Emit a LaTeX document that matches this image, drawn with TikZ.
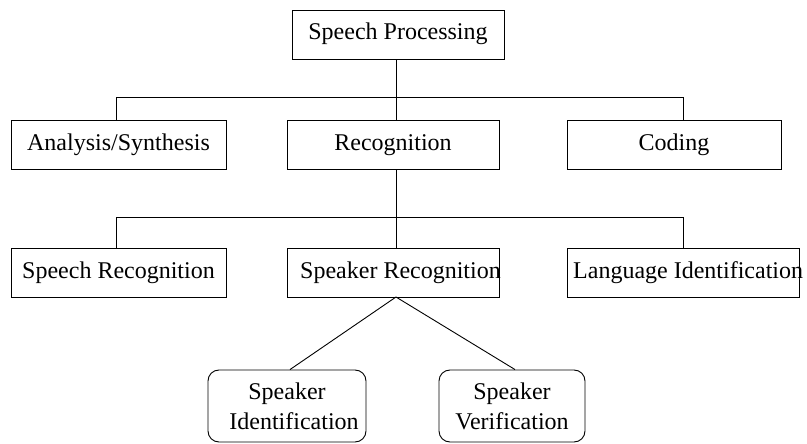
\documentclass[tikz,border=0pt]{standalone}
\usepackage{fontspec}
\setmainfont{Liberation Serif}
\begin{document}
\begin{tikzpicture}[x=1pt,y=-1pt,
  txt/.style={font=\fontsize{24}{30}\selectfont},
  box/.style={draw, line width=0.9pt, inner sep=0pt, minimum height=49pt,
    text height=16pt, text depth=5pt, txt},
  rbox/.style={draw, line width=0.9pt, inner sep=0pt, rounded corners=11pt,
    minimum height=72pt, align=center, txt},
  lbl/.style={inner sep=0pt, anchor=west, text height=16pt, text depth=5pt, txt},
  wire/.style={line width=0.9pt}]
\useasboundingbox (0,0) rectangle (807,444);

% top level
\node[box, minimum width=212pt] (sp) at (398,34.5) {Speech Processing};

% second level
\node[box, minimum width=215pt] (as)  at (118.5,144.5) {Analysis/Synthesis};
\node[box, minimum width=212pt] (rec) at (393,144.5)   {Recognition};
\node[box, minimum width=214pt] (cod) at (674,144.5)   {Coding};

% third level
\node[box, minimum width=215pt] (sr) at (118.5,272.5) {Speech Recognition};
\node[lbl] (spkt) at (300,272.5) {Speaker Recognition};
\node[box, minimum width=212pt] (spk) at (393,272.5) {};
\node[lbl] (lit) at (573,272.5) {Language Identification};
\node[box, minimum width=232pt] (li) at (683,272.5) {};

% fourth level
\node[rbox, minimum width=158pt] (sid) at (287,406) {Speaker\\\hspace*{14pt}Identification};
\node[rbox, minimum width=146pt] (sv)  at (512,406) {Speaker\\Verification};

% branching points
\coordinate (b1) at (396,97);
\coordinate (b1l) at (116,97);
\coordinate (b1r) at (683,97);
\coordinate (b2) at (396,217);
\coordinate (b2l) at (116,217);
\coordinate (b2r) at (683,217);
\coordinate (fork) at (396,297);

% connectors
\draw[wire] (b1 |- sp.south) -- (b1);
\draw[wire] (b1l |- as.north) -- (b1l) -- (b1r) -- (b1r |- cod.north);
\draw[wire] (b1) -- (b1 |- rec.north);

\draw[wire] (b2 |- rec.south) -- (b2);
\draw[wire] (b2l |- sr.north) -- (b2l) -- (b2r) -- (b2r |- li.north);
\draw[wire] (b2) -- (b2 |- spk.north);

\draw[wire] (fork) -- ([xshift=3pt]sid.north);
\draw[wire] (fork) -- ([xshift=3pt]sv.north);
\end{tikzpicture}
\end{document}
